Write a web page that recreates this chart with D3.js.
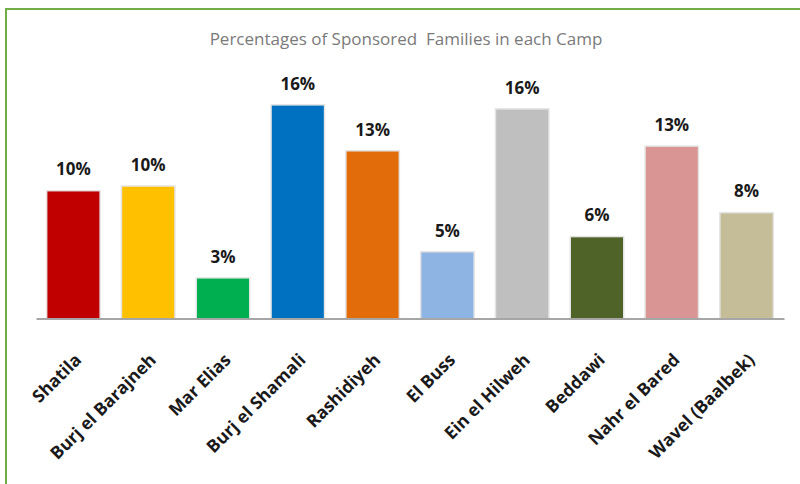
<!DOCTYPE html>
<html>
<head>
<meta charset="utf-8">
<script src="https://cdn.jsdelivr.net/npm/d3@7"></script>
<style>
  html, body { margin: 0; padding: 0; background: #fff; }
  svg { display: block; }
</style>
</head>
<body>
<svg id="chart" width="800" height="484"></svg>
<script>
// Camps and their share of sponsored families
const camps = [
  "Shatila", "Burj el Barajneh", "Mar Elias", "Burj el Shamali", "Rashidiyeh",
  "El Buss", "Ein el Hilweh", "Beddawi", "Nahr el Bared", "Wavel (Baalbek)"
];
const shares = [0.0955, 0.099, 0.030, 0.160, 0.1255, 0.0496, 0.157, 0.061, 0.129, 0.079];
const barColors = [
  "#c00000", "#ffc000", "#00b050", "#0070c0", "#e36c0a",
  "#8eb4e3", "#bfbfbf", "#4f6228", "#d99594", "#c4bd97"
];
const chartTitle = "Percentages of Sponsored\u00a0 Families in each Camp";

const svg = d3.select("#chart");
const W = 800, H = 484;
const plot = { left: 36, right: 784, top: 79, bottom: 318.5 };

// Frame: green rule along the top and left edges
svg.append("path")
  .attr("d", `M6,${H} L6,9 L${W},9`)
  .attr("fill", "none")
  .attr("stroke", "#70ad47")
  .attr("stroke-width", 2);

svg.append("text")
  .attr("x", 406)
  .attr("y", 45)
  .attr("text-anchor", "middle")
  .attr("font-family", "'Open Sans', sans-serif")
  .attr("font-size", 17)
  .attr("fill", "#7a7a7a")
  .text(chartTitle);

const x = d3.scaleBand()
  .domain(camps)
  .range([plot.left, plot.right])
  .paddingInner(0.305)
  .paddingOuter(0.1525);

const y = d3.scaleLinear()
  .domain([0, 0.18])
  .range([plot.bottom, plot.top]);

const data = camps.map((c, i) => ({ camp: c, value: shares[i], color: barColors[i] }));
const fmt = d3.format(".0%");

// Bars with a faint light edge around them
svg.append("g").selectAll("rect")
  .data(data)
  .join("rect")
  .attr("x", d => x(d.camp))
  .attr("y", d => y(d.value))
  .attr("width", x.bandwidth())
  .attr("height", d => y(0) - y(d.value))
  .attr("fill", d => d.color)
  .attr("stroke", "#e4e4e4")
  .attr("stroke-width", 3)
  .style("paint-order", "stroke");

// Category axis
const xAxis = d3.axisBottom(x).tickSize(0).tickFormat("");
const gx = svg.append("g")
  .attr("transform", `translate(0,${plot.bottom})`)
  .call(xAxis);
gx.select(".domain").attr("stroke", "#a6a6a6").attr("stroke-width", 2);

// Slanted camp names
svg.append("g").selectAll("text")
  .data(data)
  .join("text")
  .attr("transform", d => `translate(${x(d.camp) + x.bandwidth() / 2 + 9},361) rotate(-45)`)
  .attr("text-anchor", "end")
  .attr("font-family", "'Open Sans', sans-serif")
  .attr("font-weight", "bold")
  .attr("font-size", 17.5)
  .attr("fill", "#1a1a1a")
  .text(d => d.camp);

// Value labels above each bar
svg.append("g").selectAll("text")
  .data(data)
  .join("text")
  .attr("x", d => x(d.camp) + x.bandwidth() / 2)
  .attr("y", d => y(d.value) - 16)
  .attr("text-anchor", "middle")
  .attr("font-family", "'Open Sans', sans-serif")
  .attr("font-weight", "bold")
  .attr("font-size", 17)
  .attr("fill", "#1a1a1a")
  .text(d => fmt(d.value));
</script>
</body>
</html>
